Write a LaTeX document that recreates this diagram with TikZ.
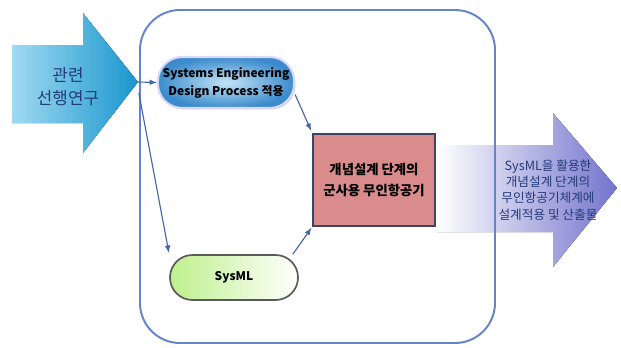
\documentclass[tikz,border=0pt]{standalone}
\usepackage{fontspec}
\setmainfont{Noto Sans CJK KR}
\usepackage{tikz}
\usetikzlibrary{shadows}
\pgfdeclarelayer{bg}
\pgfsetlayers{bg,main}
\definecolor{frameblue}{RGB}{104,132,200}
\definecolor{linkblue}{RGB}{70,100,170}
\definecolor{navy}{RGB}{35,60,120}
\definecolor{cyanlight}{RGB}{160,218,242}
\definecolor{cyandark}{RGB}{25,150,205}
\definecolor{lavender}{RGB}{115,115,205}
\definecolor{pillblue}{RGB}{60,140,205}
\definecolor{pilllight}{RGB}{195,228,246}
\definecolor{pillgreen}{RGB}{190,240,140}
\definecolor{boxred}{RGB}{218,140,140}
\definecolor{boxline}{RGB}{60,70,100}

\begin{document}
\begin{tikzpicture}[
        pill/.style={rectangle, align=center, font=\fontsize{8.5}{12.8}\selectfont\bfseries},
        link/.style={-latex, draw=linkblue, line width=0.8pt}]
        \useasboundingbox (0cm, 0cm) rectangle (15.525cm, -8.675cm);
        \begin{pgfonlayer}{bg}
                \fill [left color=cyanlight, right color=cyandark] (0.300000cm, -1.125000cm) -- (2.075000cm, -1.125000cm) -- (2.075000cm, -0.325000cm) -- (3.450000cm, -2.050000cm) -- (2.075000cm, -3.825000cm) -- (2.075000cm, -3.075000cm) -- (0.300000cm, -3.075000cm) -- cycle;
                \fill [left color=white, middle color=lavender!55, right color=lavender] (10.925000cm, -3.625000cm) -- (13.825000cm, -3.625000cm) -- (13.825000cm, -2.825000cm) -- (15.425000cm, -4.700000cm) -- (13.825000cm, -6.675000cm) -- (13.825000cm, -5.800000cm) -- (10.925000cm, -5.800000cm) -- cycle;
        \end{pgfonlayer}
        \draw [frameblue, line width=1.4pt, rounded corners=1cm] (3.500000cm, -0.250000cm) rectangle (12.375000cm, -8.575000cm);
        \node (v0) [align=center, text=navy, font=\fontsize{12}{16.3}\selectfont] at (1.700000cm, -2.160000cm) {관련\\선행연구};
        \node (v1) [pill, minimum width=3.2cm, minimum height=1.275cm, rounded corners=0.6cm, inner color=pilllight, outer color=pillblue, draw=white!85!blue, line width=1.5pt, drop shadow={opacity=0.35, shadow xshift=1pt, shadow yshift=-1pt}] at (5.650000cm, -2.062500cm) {Systems Engineering\\Design Process 적용};
        \node (v2) [rectangle, align=center, minimum width=3.05cm, minimum height=2.3cm, fill=boxred, draw=boxline, line width=1pt, font=\fontsize{9.5}{15.5}\selectfont\bfseries] at (9.350000cm, -4.500000cm) {개념설계 단계의\\군사용 무인항공기};
        \node (v3) [pill, minimum width=3.2cm, minimum height=1.125cm, rounded corners=0.56cm, left color=pillgreen, right color=white, draw=gray!70!black, line width=1.2pt] at (5.850000cm, -6.937500cm) {SysML};
        \node (v4) [align=center, text=navy, font=\fontsize{9}{11.5}\selectfont] at (13.700000cm, -4.750000cm) {SysML을 활용한\\개념설계 단계의\\무인항공기체계에\\설계적용 및 산출물};
        \coordinate (c0) at (3.450000cm, -2.050000cm);
        \coordinate (c1) at (3.470000cm, -2.320000cm);
        \draw (c0) edge [link] (v1.west);
        \draw (c1) edge [link, shorten >=1pt] (v3.north west);
        \draw ([yshift=-0.3cm]v1.east) edge [link, shorten >=2pt] (v2.north west);
        \draw ([xshift=-0.15cm]v3.north east) edge [link, shorten >=1pt] (v2.south west);
\end{tikzpicture}
\end{document}
